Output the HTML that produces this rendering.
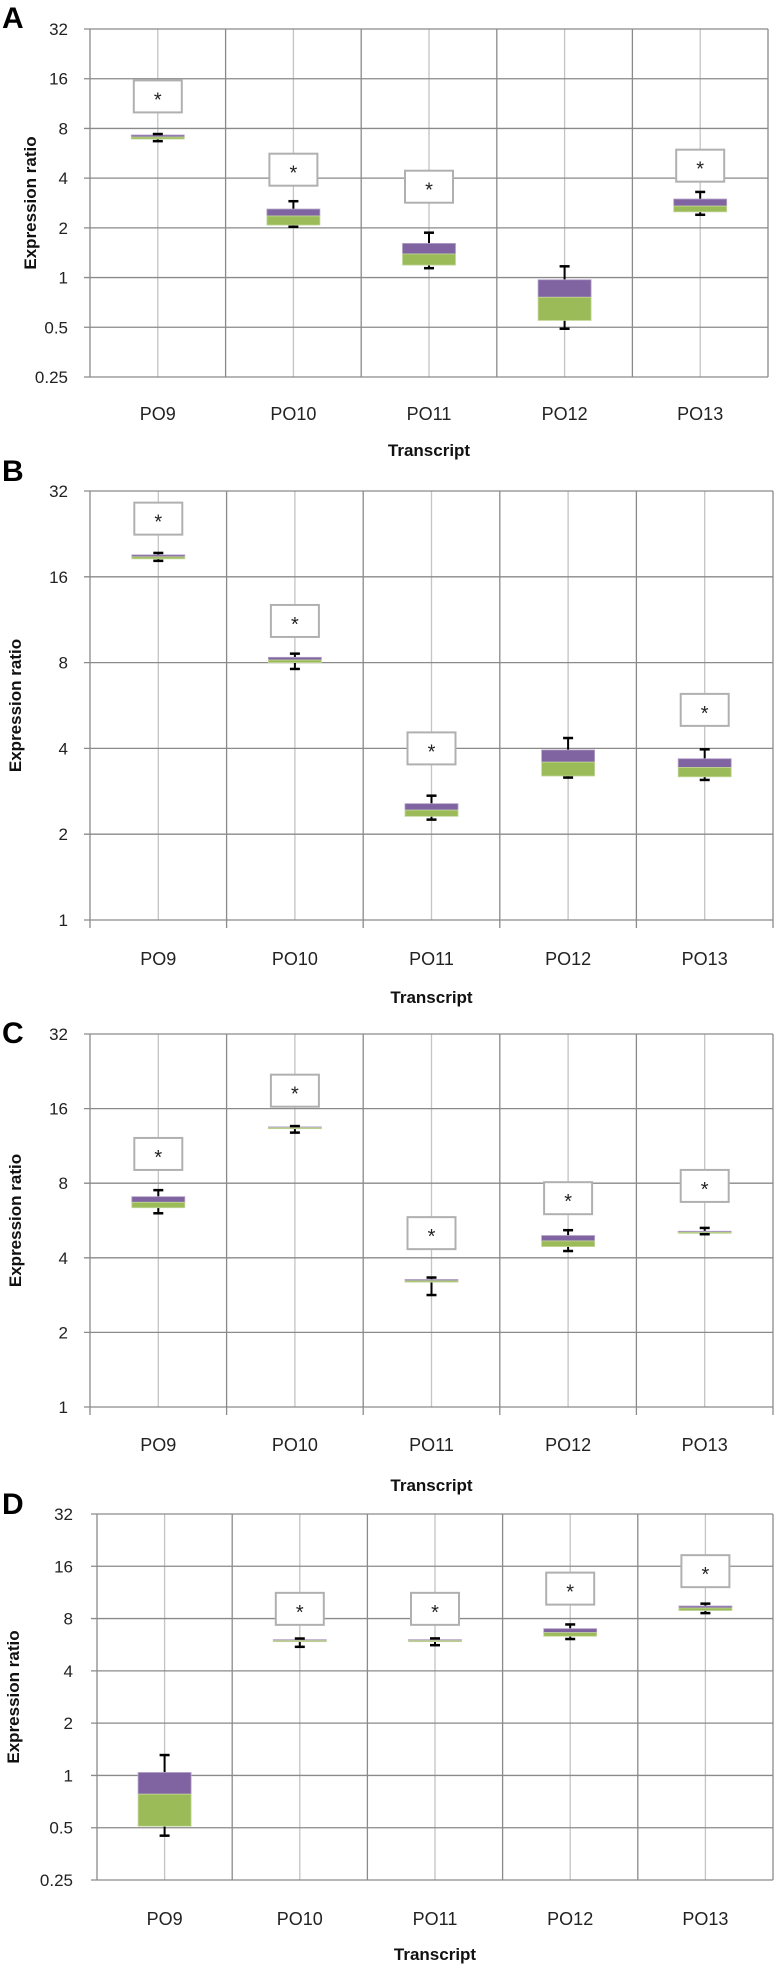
<!DOCTYPE html>
<html><head><meta charset="utf-8"><style>
html,body{margin:0;padding:0;background:#fff;}
svg{display:block;font-family:"Liberation Sans",sans-serif;}
</style></head><body>
<svg id="fig" width="774" height="1968" viewBox="0 0 774 1968" xmlns="http://www.w3.org/2000/svg"></svg>
<script>
const categories = ["PO9","PO10","PO11","PO12","PO13"];
// Panel A
const aMin = [6.7, 2.03, 1.14, 0.49, 2.4];
const aQ1  = [6.9, 2.08, 1.19, 0.55, 2.5];
const aMed = [7.1, 2.36, 1.39, 0.76, 2.71];
const aQ3  = [7.3, 2.6, 1.61, 0.97, 2.99];
const aMax = [7.4, 2.9, 1.87, 1.17, 3.3];
const aStar = [12.5, 4.5, 3.55, null, 4.76];
const aTicks = ["0.25","0.5","1","2","4","8","16","32"];
// Panel B
const bMin = [18.2, 7.6, 2.25, 3.16, 3.1];
const bQ1  = [18.5, 8.0, 2.31, 3.2, 3.18];
const bMed = [18.8, 8.17, 2.43, 3.58, 3.43];
const bQ3  = [19.1, 8.35, 2.56, 3.95, 3.68];
const bMax = [19.4, 8.6, 2.73, 4.35, 3.97];
const bStar = [25.6, 11.2, 4.0, null, 5.46];
const bTicks = ["1","2","4","8","16","32"];
// Panel C
const cMin = [6.05, 12.8, 2.83, 4.26, 4.98];
const cQ1  = [6.37, 13.3, 3.19, 4.44, 5.02];
const cMed = [6.7, 13.4, 3.23, 4.68, 5.07];
const cQ3  = [7.06, 13.5, 3.27, 4.92, 5.12];
const cMax = [7.5, 13.6, 3.33, 5.17, 5.28];
const cStar = [10.5, 18.9, 5.03, 6.96, 7.8];
const cTicks = ["1","2","4","8","16","32"];
// Panel D
const dMin = [0.45, 5.5, 5.62, 6.1, 8.6];
const dQ1  = [0.51, 5.9, 5.9, 6.33, 8.9];
const dMed = [0.78, 5.97, 5.97, 6.64, 9.2];
const dQ3  = [1.04, 6.05, 6.05, 7.0, 9.45];
const dMax = [1.31, 6.14, 6.15, 7.4, 9.75];
const dStar = [null, 9.1, 9.1, 11.9, 15.0];
const dTicks = ["0.25","0.5","1","2","4","8","16","32"];

const NS = "http://www.w3.org/2000/svg";
const svg = document.getElementById("fig");
function el(tag, attrs, parent){
  const e = document.createElementNS(NS, tag);
  for (const k in attrs) e.setAttribute(k, attrs[k]);
  (parent||svg).appendChild(e);
  return e;
}

const panels = [
  {letter:"A", ly:28, lx:2, x0:90, x1:768, ytop:29, ybot:377, vmin:0.25, vmax:32, ticks:aTicks, tickX:68, catY:420, titleY:456, ylabX:30, xticks:false,
   min:aMin,q1:aQ1,med:aMed,q3:aQ3,max:aMax,star:aStar},
  {letter:"B", ly:481, lx:2, x0:90, x1:773, ytop:491, ybot:920, vmin:1, vmax:32, ticks:bTicks, tickX:68, catY:965, titleY:1003, ylabX:15, xticks:true,
   min:bMin,q1:bQ1,med:bMed,q3:bQ3,max:bMax,star:bStar},
  {letter:"C", ly:1043, lx:2, x0:90, x1:773, ytop:1034, ybot:1407, vmin:1, vmax:32, ticks:cTicks, tickX:68, catY:1451, titleY:1491, ylabX:15, xticks:true,
   min:cMin,q1:cQ1,med:cMed,q3:cQ3,max:cMax,star:cStar},
  {letter:"D", ly:1514, lx:2, x0:97, x1:773, ytop:1514, ybot:1880, vmin:0.25, vmax:32, ticks:dTicks, tickX:73, catY:1925, titleY:1960, ylabX:13, xticks:false,
   min:dMin,q1:dQ1,med:dMed,q3:dQ3,max:dMax,star:dStar}
];

panels.forEach(p => {
  const g = el("g", {});
  
  
  const lmin = Math.log2(p.vmin), lmax = Math.log2(p.vmax);
  const yScale = v => p.ybot - (Math.log2(v) - lmin) / (lmax - lmin) * (p.ybot - p.ytop);
  const bw = (p.x1 - p.x0) / categories.length;
  const xScale = i => p.x0 + bw * (i + 0.5);

  const letter = el("text", {x:p.lx, y:p.ly, "font-size":30, "font-weight":"bold", fill:"#000"}, g);
  letter.textContent = p.letter;
  
  

  // minor verticals at category centers
  categories.forEach((c, i) => {
    const ln = el("line", {x1:xScale(i), x2:xScale(i), y1:p.ytop, y2:p.ybot, stroke:"#c4c4c4", "stroke-width":1.3}, g);
    
    
  });
  // major verticals
  for (let i = 0; i <= categories.length; i++) {
    const x = p.x0 + bw * i;
    const ln = el("line", {x1:x, x2:x, y1:p.ytop, y2:p.ybot + (p.xticks ? 8 : 0), stroke:"#8a8a8a", "stroke-width":1.3}, g);
    
    
  }
  // horizontal gridlines + tick labels
  p.ticks.forEach(t => {
    const y = yScale(parseFloat(t));
    const ln = el("line", {x1:p.x0 - 6, x2:p.x1, y1:y, y2:y, stroke:"#8a8a8a", "stroke-width":1.3}, g);
    
    
    const tx = el("text", {x:p.tickX, y:y + 6, "font-size":17, "text-anchor":"end", fill:"#222"}, g);
    tx.textContent = t;
    
    
  });
  // boxes
  categories.forEach((c, i) => {
    const cx = xScale(i), hw = 26.5;
    const yMax = yScale(p.max[i]), yMin = yScale(p.min[i]);
    const yQ3 = yScale(p.q3[i]), yMed = yScale(p.med[i]), yQ1 = yScale(p.q1[i]);
    const wl = el("line", {x1:cx, x2:cx, y1:yMax, y2:yMin, stroke:"#000", "stroke-width":2}, g);
    
    
    const pu = el("rect", {x:cx - hw, y:yQ3, width:hw*2, height:Math.max(yMed - yQ3, 1), fill:"#8064a2", stroke:"#b3a2c7", "stroke-width":0.8}, g);
    
    
    const gr = el("rect", {x:cx - hw, y:yMed, width:hw*2, height:Math.max(yQ1 - yMed, 1), fill:"#9bbb59", stroke:"#c3d69b", "stroke-width":0.8}, g);
    
    
    [yMax, yMin].forEach(yy => {
      const cap = el("line", {x1:cx - 5, x2:cx + 5, y1:yy, y2:yy, stroke:"#000", "stroke-width":2.5}, g);
      
      
    });
    if (p.star[i] !== null) {
      const sy = yScale(p.star[i]);
      const sb = el("rect", {x:cx - 24, y:sy - 16, width:48, height:32, fill:"#fff", stroke:"#b0b0b0", "stroke-width":2}, g);
      
      
      const st = el("text", {x:cx, y:sy + 10, "font-size":20, "text-anchor":"middle", fill:"#222"}, g);
      st.textContent = "*";
      
      
    }
    const cl = el("text", {x:cx, y:p.catY, "font-size":18, "text-anchor":"middle", fill:"#222"}, g);
    cl.textContent = c;
    
    
  });
  const xt = el("text", {x:(p.x0 + p.x1)/2, y:p.titleY, "font-size":17, "font-weight":"bold", "text-anchor":"middle", fill:"#111"}, g);
  xt.textContent = "Transcript";
  
  
  const ym = (p.ytop + p.ybot) / 2;
  const yt = el("text", {x:p.ylabX, y:ym, "font-size":17, "font-weight":"bold", "text-anchor":"middle", fill:"#111", transform:"rotate(-90 " + p.ylabX + " " + ym + ") translate(0 6)"}, g);
  yt.textContent = "Expression ratio";
  
  
});
</script>
</body></html>
